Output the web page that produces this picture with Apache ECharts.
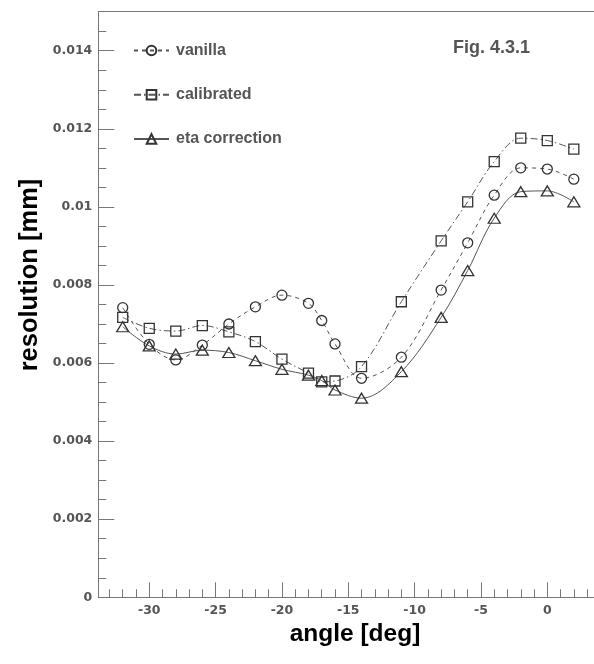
<!DOCTYPE html>
<html>
<head>
<meta charset="utf-8">
<script src="https://cdn.jsdelivr.net/npm/echarts@6.0.0/dist/echarts.min.js"></script>
<style>
  html, body { margin: 0; padding: 0; background: #fff; }
  #chart { width: 594px; height: 664px; }
</style>
</head>
<body>
<div id="chart"></div>
<script>
// Scan angles (deg)
const angles = [-32, -30, -28, -26, -24, -22, -20, -18, -17, -16, -14, -11, -8, -6, -4, -2, 0, 2];

// Resolution (mm) per reconstruction method
const vanilla = [0.00742, 0.00648, 0.00608, 0.00646, 0.00700, 0.00744, 0.00774, 0.00753, 0.00709, 0.00649,
                 0.00561, 0.00615, 0.00787, 0.00908, 0.01030, 0.01100, 0.01097, 0.01071];
const calibrated = [0.00717, 0.00689, 0.00682, 0.00696, 0.00680, 0.00655, 0.00610, 0.00574, 0.00552, 0.00554,
                    0.00591, 0.00757, 0.00913, 0.01013, 0.01116, 0.01176, 0.01170, 0.01148];
const etaCorrection = [0.00693, 0.00644, 0.00623, 0.00633, 0.00627, 0.00606, 0.00584, 0.00569, 0.00555, 0.00531,
                       0.00510, 0.00578, 0.00717, 0.00837, 0.00971, 0.01039, 0.01041, 0.01013];

const seriesNames = ['vanilla', 'calibrated', 'eta correction'];

// Axis tick positions
const xMajorTicks = [-30, -25, -20, -15, -10, -5, 0];
const xMinorTicks = [-33, -32, -31, -30, -29, -28, -27, -26, -25, -24, -23, -22, -21, -20, -19, -18, -17, -16,
                     -15, -14, -13, -12, -11, -10, -9, -8, -7, -6, -5, -4, -3, -2, -1, 0, 1, 2, 3];
const yMajorTicks = [0, 0.002, 0.004, 0.006, 0.008, 0.01, 0.012, 0.014];
const yMinorTicks = [0.0005, 0.001, 0.0015, 0.0025, 0.003, 0.0035, 0.0045, 0.005, 0.0055, 0.0065, 0.007, 0.0075,
                     0.0085, 0.009, 0.0095, 0.0105, 0.011, 0.0115, 0.0125, 0.013, 0.0135, 0.0145];

const X_MIN = -33.84, X_MAX = 3.52, Y_MIN = 0, Y_MAX = 0.015;

const axisGray = '#777';
const labelFont = { fontFamily: 'DejaVu Sans', fontWeight: 'bold', fontSize: 12.5, color: '#555' };

function pairs(ys) { return angles.map((a, i) => [a, ys[i]]); }

function baseX(extra) {
  return Object.assign({
    type: 'value', min: X_MIN, max: X_MAX, position: 'bottom',
    splitLine: { show: false }, minorTick: { show: false }
  }, extra);
}
function baseY(extra) {
  return Object.assign({
    type: 'value', min: Y_MIN, max: Y_MAX, position: 'left',
    splitLine: { show: false }, minorTick: { show: false }
  }, extra);
}

function lineSeries(name, ys, symbol, size, dash) {
  return {
    name, type: 'line', data: pairs(ys), smooth: 0.35,
    symbol, symbolSize: size, showSymbol: true,
    xAxisIndex: 0, yAxisIndex: 0,
    lineStyle: { color: '#555', width: 1, type: dash },
    itemStyle: { color: 'rgba(255,255,255,0)', borderColor: '#333', borderWidth: 1.3 },
    emphasis: { disabled: true },
    z: 5
  };
}

const chart = echarts.init(document.getElementById('chart'), null, { renderer: 'canvas' });
chart.setOption({
  animation: false,
  backgroundColor: '#fff',
  grid: { left: 98.3, top: 11.7, right: 0, bottom: 66.7, show: false },
  xAxis: [
    baseX({
      axisLine: { show: true, onZero: false, lineStyle: { color: axisGray, width: 1 } },
      axisTick: { show: true, inside: true, length: 15, customValues: xMajorTicks, lineStyle: { color: axisGray } },
      axisLabel: Object.assign({ show: true, margin: 7, customValues: xMajorTicks }, labelFont)
    }),
    baseX({
      axisLine: { show: false, onZero: false },
      axisTick: { show: true, inside: true, length: 8, customValues: xMinorTicks, lineStyle: { color: axisGray } },
      axisLabel: { show: false }
    }),
    // upper frame edge
    baseX({
      position: 'top',
      axisLine: { show: true, onZero: false, lineStyle: { color: axisGray, width: 1 } },
      axisTick: { show: false },
      axisLabel: { show: false }
    })
  ],
  yAxis: [
    baseY({
      axisLine: { show: true, onZero: false, lineStyle: { color: axisGray, width: 1 } },
      axisTick: { show: true, inside: true, length: 16, customValues: yMajorTicks, lineStyle: { color: axisGray } },
      axisLabel: Object.assign({ show: true, margin: 6, customValues: yMajorTicks }, labelFont)
    }),
    baseY({
      axisLine: { show: false, onZero: false },
      axisTick: { show: true, inside: true, length: 8, customValues: yMinorTicks, lineStyle: { color: axisGray } },
      axisLabel: { show: false }
    })
  ],
  legend: {
    orient: 'vertical', left: 133, top: 42.5, padding: 0,
    itemWidth: 35, itemHeight: 12, itemGap: 28.2,
    data: seriesNames,
    selectedMode: false,
    textStyle: { fontFamily: 'Liberation Sans', fontWeight: 'bold', fontSize: 16, color: '#555', lineHeight: 16, padding: [0, 0, 0, 2] }
  },
  graphic: [
    {
      type: 'text', left: 453, top: 39,
      style: { text: 'Fig. 4.3.1', font: 'bold 18px "Liberation Sans"', fill: '#555' }
    },
    {
      type: 'text', x: 30, y: 275, rotation: Math.PI / 2,
      style: { text: 'resolution [mm]', font: 'bold 25.5px "Liberation Sans"', fill: '#000',
               textAlign: 'center', textVerticalAlign: 'middle' }
    },
    {
      type: 'text', x: 355, y: 634,
      style: { text: 'angle [deg]', font: 'bold 24.5px "Liberation Sans"', fill: '#000',
               textAlign: 'center', textVerticalAlign: 'middle' }
    }
  ],
  series: [
    lineSeries('vanilla', vanilla, 'circle', 10, [4, 4]),
    lineSeries('calibrated', calibrated, 'rect', 10, [7, 3, 1.5, 3]),
    lineSeries('eta correction', etaCorrection, 'triangle', [12, 10], 'solid')
  ]
});
</script>
</body>
</html>
